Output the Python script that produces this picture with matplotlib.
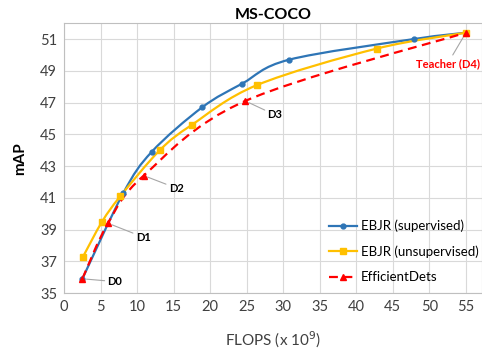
import numpy as np
import matplotlib
matplotlib.use('Agg')
import matplotlib.pyplot as plt
from matplotlib.path import Path
from matplotlib.patches import PathPatch
from matplotlib.lines import Line2D

plt.rcParams['font.family'] = ['Lato', 'DejaVu Sans']

# FLOPS (x 1e9) and mAP
sup_flops = [2.5, 8.1, 12.0, 18.9, 24.4, 30.8, 47.9, 55.0]
sup_map = [35.9, 41.3, 43.9, 46.7, 48.2, 49.7, 51.0, 51.4]

unsup_flops = [2.6, 5.2, 7.7, 13.1, 17.5, 26.4, 42.8, 55.0]
unsup_map = [37.3, 39.5, 41.1, 44.0, 45.6, 48.1, 50.4, 51.4]

eff_flops = [2.5, 6.0, 10.9, 24.8, 55.0]
eff_map = [35.9, 39.4, 42.4, 47.1, 51.4]
eff_names = ['D0', 'D1', 'D2', 'D3', 'Teacher (D4)']

BLUE = '#2E75B6'
YELLOW = '#FFC000'
RED = '#FF0000'


def smooth_path(xs, ys):
    '''Excel-style smoothed line: cubic Bezier through every point.'''
    p = np.column_stack([xs, ys]).astype(float)
    n = len(p)
    verts = [p[0]]
    codes = [Path.MOVETO]
    for i in range(n - 1):
        p0 = p[i - 1] if i > 0 else p[i]
        p3 = p[i + 2] if i + 2 < n else p[i + 1]
        c1 = p[i] + (p[i + 1] - p0) / 6.
        c2 = p[i + 1] - (p3 - p[i]) / 6.
        verts += [c1, c2, p[i + 1]]
        codes += [Path.CURVE4] * 3
    return Path(verts, codes)


fig = plt.figure(figsize=(4.82, 3.51), dpi=100)
ax = fig.add_axes([0.133, 0.165, 0.867, 0.769])

series = [
    (sup_flops, sup_map, BLUE, 'o', 3.5, '-', 'EBJR (supervised)'),
    (unsup_flops, unsup_map, YELLOW, 's', 4.5, '-', 'EBJR (unsupervised)'),
    (eff_flops, eff_map, RED, '^', 5, (0, (4, 2.5)), 'EfficientDets'),
]
handles = []
for xs, ys, col, mk, ms, ls, lab in series:
    patch = PathPatch(smooth_path(xs, ys), facecolor='none', edgecolor=col,
                      lw=1.6, linestyle=ls, zorder=3)
    ax.add_patch(patch)
    ax.plot(xs, ys, linestyle='none', marker=mk, ms=ms, color=col, zorder=4)
    handles.append(Line2D([], [], color=col, lw=1.6, linestyle=ls,
                          marker=mk, ms=ms, label=lab))

# labels for EfficientDet points (offsets in points)
offsets = [(18, -2), (20, -10), (18, -9), (16, -10), (-13, -22)]
for x, y, name, (dx, dy) in zip(eff_flops, eff_map, eff_names, offsets):
    teacher = name.startswith('Teacher')
    ax.annotate(name, (x, y), xytext=(dx, dy), textcoords='offset points',
                fontsize=8, fontweight='bold',
                color=RED if teacher else 'black',
                ha='center' if teacher else 'left', va='center',
                arrowprops=dict(arrowstyle='-', color='#a6a6a6', lw=0.8,
                                shrinkA=0, shrinkB=3))

ax.set_xlim(0, 57.2)
ax.set_ylim(35, 52)
ax.set_xticks(np.arange(0, 56, 5))
ax.set_yticks(np.arange(35, 52, 2))
ax.grid(color='#d9d9d9', lw=0.8)
ax.set_axisbelow(True)
ax.tick_params(length=0, labelsize=10.5, colors='#404040', pad=5)
for s in ax.spines.values():
    s.set_color('#bfbfbf')
    s.set_linewidth(0.8)

ax.set_title('MS-COCO', fontsize=11.5, fontweight='bold', pad=3)
ax.set_xlabel('FLOPS (x 10$^9$)', fontsize=11, color='#404040', labelpad=11)
ax.set_ylabel('mAP', fontsize=11, fontweight='bold', labelpad=9)

ax.legend(handles=handles, loc='upper left', bbox_to_anchor=(0.605, 0.316),
          frameon=False, fontsize=9.5, handlelength=2.15, handletextpad=0.3,
          labelspacing=1.0)

plt.savefig('out.png', dpi=100)
